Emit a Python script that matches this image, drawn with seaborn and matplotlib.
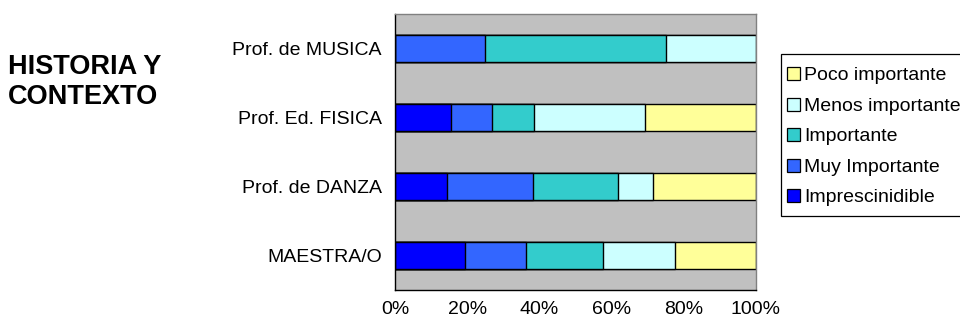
import matplotlib
matplotlib.use("Agg")
import matplotlib.pyplot as plt
from matplotlib.patches import Patch, Rectangle
from matplotlib.ticker import FixedLocator
import numpy as np
import pandas as pd
import seaborn as sns

# Groups, top to bottom
groups = ["Prof. de MUSICA", "Prof. Ed. FISICA", "Prof. de DANZA", "MAESTRA/O"]

# Share of answers per importance level (percent), same order as groups
imprescindible = [0.0, 15.4, 14.3, 19.4]
muy_importante = [25.0, 11.5, 23.8, 16.9]
importante = [50.0, 11.5, 23.8, 21.2]
menos_importante = [25.0, 30.8, 9.5, 20.1]
poco_importante = [0.0, 30.8, 28.6, 22.4]

levels = ["Imprescinidible", "Muy Importante", "Importante",
          "Menos importante", "Poco importante"]
level_values = [imprescindible, muy_importante, importante,
                menos_importante, poco_importante]
level_colors = ["#0000FF", "#3366FF", "#33CCCC", "#CCFFFF", "#FFFF99"]

x_ticks = [0, 20, 40, 60, 80, 100]
x_tick_labels = [f"{t}%" for t in x_ticks]

title_lines = ["HISTORIA Y", "CONTEXTO"]

sns.set_style("white")
plt.rcParams["font.family"] = ["Liberation Sans", "DejaVu Sans"]
plt.rcParams["text.color"] = "black"
plt.rcParams["xtick.color"] = "black"
plt.rcParams["ytick.color"] = "black"
plt.rcParams["xtick.labelcolor"] = "black"
plt.rcParams["ytick.labelcolor"] = "black"

fig = plt.figure(figsize=(9.6, 3.2), dpi=100)
ax = fig.add_axes([395 / 960, 30 / 320, 361 / 960, 276 / 320])
ax.set_facecolor("#C0C0C0")

# Stacked bars: draw running totals from the full bar down to the first level
df = pd.DataFrame({"group": groups})
cum = np.cumsum(np.array(level_values), axis=0)
for i in range(len(levels) - 1, -1, -1):
    df["total"] = cum[i]
    sns.barplot(data=df, x="total", y="group", orient="h", order=groups,
                color=level_colors[i], saturation=1, width=0.39,
                edgecolor="black", linewidth=1.0, ax=ax)

ax.set_xlim(0, 100)
ax.set_ylim(3.5, -0.5)
ax.set_xlabel("")
ax.set_ylabel("")

ax.set_xticks(x_ticks)
ax.set_xticklabels(x_tick_labels, fontsize=14, color="black")
ax.tick_params(axis="x", which="major", direction="out", length=4,
               width=0.8, color="black", pad=4)

ax.set_yticks(range(len(groups)))
ax.set_yticklabels(groups, fontsize=14, color="black")
ax.tick_params(axis="y", which="major", length=0, pad=9.5)
ax.yaxis.set_minor_locator(FixedLocator(np.arange(-0.5, len(groups), 1.0)))
ax.tick_params(axis="y", which="minor", direction="out", length=4,
               width=0.8, color="black")

for side in ("left", "bottom"):
    ax.spines[side].set_color("black")
    ax.spines[side].set_linewidth(1.0)
for side in ("top", "right"):
    ax.spines[side].set_color("#808080")
    ax.spines[side].set_linewidth(1.0)

# Legend box drawn as its own frame; entries placed inside it
fig.patches.append(Rectangle((781 / 960, 1 - 216 / 320), 185 / 960, 162 / 320,
                             transform=fig.transFigure, facecolor="white",
                             edgecolor="black", linewidth=0.9, zorder=0))

handles = [Patch(facecolor=level_colors[i], edgecolor="black", linewidth=0.9,
                 label=levels[i]) for i in range(len(levels) - 1, -1, -1)]
leg = fig.legend(handles=handles, loc="upper left",
                 bbox_to_anchor=(787 / 960, 1 - 67 / 320), fontsize=14,
                 frameon=False, borderpad=0, labelspacing=0.68,
                 handlelength=0.65, handleheight=0.65, handletextpad=0.25,
                 borderaxespad=0)
for t in leg.get_texts():
    t.set_color("black")

fig.text(8 / 960, 1 - 67 / 320, title_lines[0], fontsize=19.5,
         fontweight="bold", va="center", ha="left", color="black")
fig.text(8 / 960, 1 - 97 / 320, title_lines[1], fontsize=19.5,
         fontweight="bold", va="center", ha="left", color="black")

fig.savefig("out.png", dpi=100)
